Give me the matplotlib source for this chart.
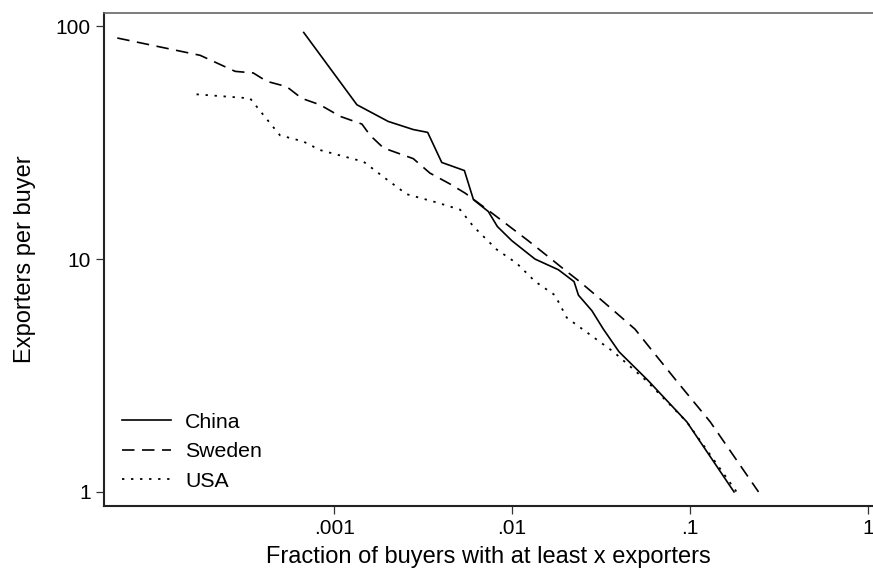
import matplotlib
matplotlib.use("Agg")
import matplotlib.pyplot as plt
from matplotlib.ticker import FixedLocator, FixedFormatter, NullLocator

plt.rcParams['font.family'] = ['Liberation Sans', 'DejaVu Sans']

# China
china_x = [6.73e-4, 1.34e-3, 2.01e-3, 2.78e-3, 3.35e-3, 4.02e-3, 5.39e-3, 6.06e-3,
           7.35e-3, 8.26e-3, 9.95e-3, 0.01345, 0.0182, 0.0223, 0.0236, 0.0281,
           0.0326, 0.0399, 0.0584, 0.096, 0.177]
china_y = [94, 46, 39, 36, 35, 26, 24, 18, 16, 13.8, 12, 10, 9, 8, 7, 6, 5, 4, 3, 2, 1]

# Sweden
sweden_x = [6.02e-5, 1.76e-4, 2.77e-4, 3.5e-4, 4.17e-4, 5.4e-4, 6.56e-4, 8.3e-4,
            1.08e-3, 1.43e-3, 1.59e-3, 1.89e-3, 2.78e-3, 3.45e-3, 4.48e-3, 5.44e-3,
            7.5e-3, 9.44e-3, 0.0123, 0.0166, 0.0197, 0.024, 0.0295, 0.0373,
            0.0491, 0.062, 0.084, 0.13, 0.243]
sweden_y = [89, 75, 64, 63, 58, 55, 49, 46, 41, 38, 34, 30, 27, 23.4, 21, 19.2,
            16, 14, 12, 10, 9, 8, 7, 6, 5, 4, 3, 2, 1]

# USA
usa_x = [1.68e-4, 3.36e-4, 3.99e-4, 4.95e-4, 6.69e-4, 8.3e-4, 1.46e-3, 1.97e-3,
         2.55e-3, 3.77e-3, 5.1e-3, 6.06e-3, 8.18e-3, 0.0106, 0.0135, 0.0174,
         0.0203, 0.0371, 0.057, 0.096, 0.183]
usa_y = [51, 49, 41.6, 34, 32, 29.4, 26.2, 22, 19, 17.5, 16.3, 13.8, 11, 9.6,
         8, 7, 5.6, 4, 3, 2, 1]

xticks = [0.001, 0.01, 0.1, 1]
xtick_labels = ['.001', '.01', '.1', '1']
yticks = [1, 10, 100]
ytick_labels = ['1', '10', '100']

fig = plt.figure(figsize=(8.73, 5.69), dpi=100)
ax = fig.add_axes([0.1188, 0.1113, 1.0 - 0.1188, 0.9772 - 0.1113])

ax.plot(china_x, china_y, color='black', lw=1.2, ls='-', label='China')
ax.plot(sweden_x, sweden_y, color='black', lw=1.2, dashes=(7.5, 4.5), label='Sweden')
ax.plot(usa_x, usa_y, color='black', lw=1.3, dashes=(1.3, 3.7), label='USA')

ax.set_xscale('log')
ax.set_yscale('log')
ax.set_xlim(5.05e-5, 1.07)
ax.set_ylim(0.873, 114)

ax.xaxis.set_major_locator(FixedLocator(xticks))
ax.xaxis.set_major_formatter(FixedFormatter(xtick_labels))
ax.xaxis.set_minor_locator(NullLocator())
ax.yaxis.set_major_locator(FixedLocator(yticks))
ax.yaxis.set_major_formatter(FixedFormatter(ytick_labels))
ax.yaxis.set_minor_locator(NullLocator())

ax.tick_params(axis='both', direction='out', length=5.5, width=0.9, color='#333333',
               labelsize=15, pad=4)

for s in ['left', 'bottom']:
    ax.spines[s].set_linewidth(1.5)
    ax.spines[s].set_color('#222222')
ax.spines['top'].set_linewidth(1.2)
ax.spines['top'].set_color('#666666')
ax.spines['right'].set_visible(False)

ax.set_xlabel('Fraction of buyers with at least x exporters', fontsize=17, labelpad=5.5)
ax.set_ylabel('Exporters per buyer', fontsize=17, labelpad=14)

leg = ax.legend(loc='lower left', bbox_to_anchor=(0.005, 0.0), frameon=False,
                fontsize=15.3, handlelength=2.3, handletextpad=0.65, labelspacing=0.5,
                borderaxespad=0.3)

fig.savefig('out.png', dpi=100)
